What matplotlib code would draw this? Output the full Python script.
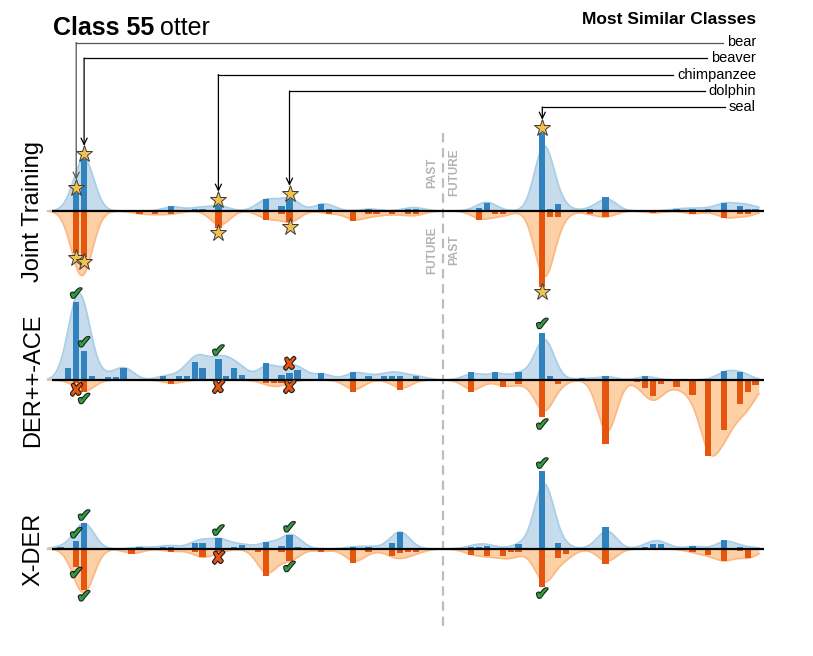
import numpy as np
import matplotlib
matplotlib.use("Agg")
import matplotlib.pyplot as plt
from matplotlib import patheffects as pe
from matplotlib.lines import Line2D
from matplotlib.transforms import blended_transform_factory

plt.rcParams['font.family'] = ['Liberation Sans', 'DejaVu Sans']

# ------------------------------------------------------------------ data
methods = ["Joint Training", "DER++-ACE", "X-DER"]
similar_names = ["bear", "beaver", "chimpanzee", "dolphin", "seal"]
similar_slots = [1, 2, 19, 28, 60]

# Joint Training: upward (blue) and downward (orange) bars
jt_up_x = [1, 2, 13, 16, 17, 19, 24, 25, 27, 28, 32, 33, 38, 43, 44,
           52, 53, 60, 61, 62, 66, 68, 77, 79, 81, 83, 85, 86, 87]
jt_up_v = [17.7, 51.7, 5, 2.3, 2.3, 5.7, 2.3, 11.7, 5, 11.7, 7, 2.3, 2.3, 2.3, 2.3,
           3.3, 8.3, 77.7, 2.3, 7, 2.3, 14.3, 2.3, 2.3, 2.3, 8.3, 5, 2.3, 2.3]
jt_dn_x = [1, 2, 9, 11, 13, 19, 25, 27, 28, 33, 36, 38, 39, 41, 43, 44,
           52, 54, 55, 60, 61, 62, 66, 68, 74, 79, 83, 85, 86]
jt_dn_v = [42.3, 45.7, 3, 3, 3, 17.3, 9, 3, 11.3, 3, 10, 3, 3, 3, 3, 3,
           9, 3.3, 3.3, 75.7, 6.3, 6.3, 3.3, 6.3, 2.3, 3.3, 7.3, 3.3, 3.3]

# DER++-ACE
de_up_x = [0, 1, 2, 3, 5, 6, 7, 12, 14, 15, 16, 17, 19, 20, 21, 22, 25, 27, 28, 29,
           32, 36, 38, 40, 41, 42, 44, 51, 54, 57, 60, 61, 65, 68, 73, 83, 85]
de_up_v = [11.7, 77.7, 29, 4, 3.3, 2.7, 12.3, 4, 4, 4, 17.7, 11.7, 20.7, 4, 12, 4.7,
           16.7, 5, 7.3, 10, 7, 8, 4, 4, 4, 4, 4, 7.7, 7.7, 8, 47.3, 4, 1.7, 4, 4, 9, 7.7]
de_dn_x = [1, 2, 13, 25, 26, 27, 36, 42, 51, 55, 57, 60, 62, 68, 72, 73, 74, 75,
           77, 79, 81, 83, 85, 86, 87]
de_dn_v = [2.7, 11.7, 4, 3.3, 3.3, 3.3, 11.7, 10, 12, 6.7, 4, 37.3, 4, 64, 1.7, 7.7,
           16, 4, 7, 15.3, 76, 50, 24.3, 12, 5.3]

# X-DER
xd_up_x = [-1, 1, 2, 9, 12, 13, 16, 17, 19, 21, 22, 25, 27, 28, 29, 36, 38, 41, 42,
           51, 52, 53, 57, 59, 60, 61, 62, 66, 68, 73, 74, 75, 79, 83, 85, 87]
xd_up_v = [2.3, 8, 25.7, 2.3, 2.3, 2.3, 5.7, 5.7, 10.7, 2.3, 3.7, 7, 3, 14, 2.3, 2.3,
           2.3, 5.7, 16.7, 2.3, 2.3, 3.3, 5.3, 1.3, 77.7, 1.3, 6.3, 1, 22, 2.3, 5, 5,
           3, 9, 2.3, 1]
xd_dn_x = [1, 2, 8, 13, 16, 17, 19, 24, 25, 27, 28, 32, 36, 38, 41, 42, 43, 44,
           51, 53, 55, 56, 57, 60, 62, 63, 68, 79, 81, 83, 85, 86]
xd_dn_v = [17.7, 41, 5.3, 2.7, 2.7, 7.7, 2.7, 2.7, 27, 2.7, 11.7, 2.7, 14.3, 2.7,
           6.7, 4.3, 2.7, 2.7, 5.7, 6.7, 7.3, 3.3, 3.3, 38.3, 9, 5, 15, 3.3, 6,
           12.3, 2.3, 9]

# marks on the most similar classes (star / check / cross)
jt_up_marks = ["star"] * 5
jt_dn_marks = ["star"] * 5
de_up_marks = ["check", "check", "check", "cross", "check"]
de_dn_marks = ["cross", "check", "cross", "cross", "check"]
xd_up_marks = ["check"] * 5
xd_dn_marks = ["check", "check", "cross", "check", "check"]

# ------------------------------------------------------------------ style
W, H, DPI = 813, 656, 100
BLUE, BLUE_FILL, BLUE_EDGE = "#3182bd", "#c6dcec", "#a9cfe6"
ORANGE, ORANGE_FILL, ORANGE_EDGE = "#e6550d", "#fdd0a6", "#fdb984"
GREEN = "#2e9e3e"
STAR = "#f2c14e"

PX0, PXS = 68.3, 7.9          # pixel position of slot 0 and slot spacing
L_PX, R_PX = 52, 764.3
BASES = [211, 380, 549]
HALF = 84
DIV = 47.47
SIGMA, GAIN, SHIFT = 1.2, 0.8, 0.2


def slot(px):
    return (px - PX0) / PXS


fig = plt.figure(figsize=(W / DPI, H / DPI), dpi=DPI)


def envelope(xs, vs, grid):
    xs = np.asarray(xs, float)
    vs = np.asarray(vs, float)
    d = grid[:, None] - xs[None, :] - SHIFT
    return GAIN * (vs[None, :] * np.exp(-d ** 2 / (2 * SIGMA ** 2))).sum(axis=1)


def draw_mark(ax, x, y, kind):
    if kind == "star":
        ax.plot([x], [y], marker="*", ms=12.5, mfc=STAR, mec="#3a3a3a", mew=0.7,
                clip_on=False, zorder=6)
    else:
        glyph = "\u2714" if kind == "check" else "\u2718"
        col = GREEN if kind == "check" else ORANGE
        ax.text(x, y, glyph, color=col, fontsize=12.5, ha="center", va="center",
                family=["DejaVu Sans"], zorder=6, clip_on=False,
                path_effects=[pe.Stroke(linewidth=1.6, foreground="#1e1e1e"),
                              pe.Normal()])


panels = [
    (jt_up_x, jt_up_v, jt_dn_x, jt_dn_v, jt_up_marks, jt_dn_marks, 5.0),
    (de_up_x, de_up_v, de_dn_x, de_dn_v, de_up_marks, de_dn_marks, 8.0),
    (xd_up_x, xd_up_v, xd_dn_x, xd_dn_v, xd_up_marks, xd_dn_marks, 7.0),
]

grid = np.linspace(-2.6, 87.4, 1800)
axes = []
for k, (ux, uv, dx, dv, um, dm, off) in enumerate(panels):
    b = BASES[k]
    ax = fig.add_axes([L_PX / W, 1 - (b + HALF) / H, (R_PX - L_PX) / W, 2 * HALF / H])
    ax.set_xlim(slot(L_PX), slot(R_PX))
    ax.set_ylim(-HALF, HALF)
    ax.axis("off")
    axes.append(ax)

    eu = envelope(ux, uv, grid)
    ed = envelope(dx, dv, grid)
    ax.fill_between(grid, 0, eu, color=BLUE_FILL, lw=0, zorder=1, clip_on=False)
    ax.plot(grid, eu, color=BLUE_EDGE, lw=1.3, zorder=1.2, clip_on=False)
    ax.fill_between(grid, 0, -ed, color=ORANGE_FILL, lw=0, zorder=1, clip_on=False)
    ax.plot(grid, -ed, color=ORANGE_EDGE, lw=1.3, zorder=1.2, clip_on=False)

    ax.bar(ux, uv, width=0.8, color=BLUE, zorder=2, clip_on=False)
    ax.bar(dx, [-v for v in dv], width=0.8, color=ORANGE, zorder=2, clip_on=False)
    ax.axhline(0, color="black", lw=1.6, zorder=3)

    upd = dict(zip(ux, uv))
    dnd = dict(zip(dx, dv))
    for s, mu, md in zip(similar_slots, um, dm):
        draw_mark(ax, s, upd.get(s, 0) + off, mu)
        draw_mark(ax, s, -(dnd.get(s, 0) + off), md)

    fig.text(33 / W, 1 - b / H, methods[k], rotation=90, ha="center", va="center",
             fontsize=17)

ax1 = axes[0]

# dashed past/future divider
tr = blended_transform_factory(ax1.transData, fig.transFigure)
ax1.add_line(Line2D([DIV, DIV], [1 - 133 / H, 1 - 628 / H], transform=tr,
                    color="#bdbdbd", lw=1.6, ls=(0, (4.2, 2.6)), clip_on=False,
                    zorder=0.5))
for dxs, yy, txt in [(-1.4, 38.5, "PAST"), (1.4, 38.5, "FUTURE"),
                     (-1.4, -39, "FUTURE"), (1.4, -39, "PAST")]:
    ax1.text(DIV + dxs, yy, txt, rotation=90, ha="center", va="center",
             fontsize=8.5, weight="bold", color="#b3b3b3", clip_on=False)

# titles
t1 = fig.text(53 / W, 1 - 35 / H, "Class 55", fontsize=18, weight="bold",
              va="baseline")
fig.text(756 / W, 1 - 20 / H, "Most Similar Classes", fontsize=12.5,
         weight="bold", ha="right", va="center")

label_y = [42.5, 58.0, 74.5, 91.0, 107.0]
labels = []
for name, y in zip(similar_names, label_y):
    labels.append(fig.text(756 / W, 1 - y / H, name, fontsize=10.5, ha="right",
                           va="center"))

fig.canvas.draw()
r = fig.canvas.get_renderer()
bb = t1.get_window_extent(r)
fig.text((bb.x1 + 6) / W, 1 - 35 / H, "otter", fontsize=18, va="baseline")

jt_up = dict(zip(jt_up_x, jt_up_v))
for i, (s, y, lab) in enumerate(zip(similar_slots, label_y, labels)):
    lb = lab.get_window_extent(r)
    xd = ax1.transData.transform((s, 0))[0]
    col = "#555555" if i == 0 else "black"
    yf = 1 - y / H
    fig.add_artist(Line2D([xd / W, (lb.x0 - 4) / W], [yf, yf], color=col, lw=0.9,
                          transform=fig.transFigure))
    tip = jt_up.get(s, 0) + 5.0 + 8.5
    ax1.annotate("", xy=(s, tip), xycoords="data", xytext=(s, yf), textcoords=tr,
                 arrowprops=dict(arrowstyle="->,head_length=0.45,head_width=0.22",
                                 color=col, lw=0.9, shrinkA=0, shrinkB=0),
                 annotation_clip=False)

fig.savefig("out.png", dpi=DPI)
